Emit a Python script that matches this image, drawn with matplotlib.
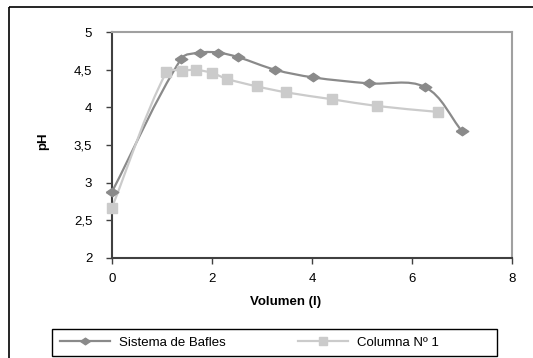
import math
import matplotlib
matplotlib.use("Agg")
import matplotlib.pyplot as plt
from matplotlib.patches import Rectangle, PathPatch
from matplotlib.path import Path
from matplotlib.lines import Line2D

plt.rcParams['font.family'] = ['Liberation Sans', 'DejaVu Sans']

# Data
bafles_x = [0.0, 1.39, 1.77, 2.13, 2.52, 3.27, 4.02, 5.13, 6.26, 7.0]
bafles_y = [2.87, 4.65, 4.73, 4.73, 4.67, 4.50, 4.40, 4.32, 4.27, 3.68]
columna_x = [0.0, 1.09, 1.41, 1.68, 2.0, 2.3, 2.9, 3.49, 4.39, 5.29, 6.52]
columna_y = [2.66, 4.47, 4.49, 4.50, 4.46, 4.38, 4.28, 4.20, 4.11, 4.02, 3.94]
series_names = ["Sistema de Bafles", "Columna Nº 1"]
xticks = [0, 2, 4, 6, 8]
yticks = [2, 2.5, 3, 3.5, 4, 4.5, 5]
ytick_labels = ["2", "2,5", "3", "3,5", "4", "4,5", "5"]

c_dark = '#8a8a8a'
c_light = '#cbcbcb'
FS = 9.5

W, H = 533, 358
fig = plt.figure(figsize=(W / 100, H / 100), dpi=100)

# outer chart border
fig.add_artist(Rectangle((9 / W, 1 - 7 / H), 1.2, -1.2, transform=fig.transFigure,
                         fill=False, edgecolor='black', linewidth=1.2))

left, right, top, bottom = 111.7, 512.3, 32.3, 257.7
ax = fig.add_axes([left / W, 1 - bottom / H, (right - left) / W, (bottom - top) / H])
ax.set_xlim(0, 8)
ax.set_ylim(2, 5)

# aspect scale (pixels per data unit) used only to shape the smoothed line
SX = (right - left) / 8
SY = (bottom - top) / 3


def smooth_path(xs, ys):
    pts = [(x * SX, y * SY) for x, y in zip(xs, ys)]
    n = len(pts)

    def tangent(i):
        a = pts[max(i - 1, 0)]
        b = pts[min(i + 1, n - 1)]
        dx, dy = b[0] - a[0], b[1] - a[1]
        L = math.hypot(dx, dy) or 1.0
        return dx / L, dy / L

    verts = [pts[0]]
    codes = [Path.MOVETO]
    for i in range(n - 1):
        p1, p2 = pts[i], pts[i + 1]
        d = math.hypot(p2[0] - p1[0], p2[1] - p1[1]) / 3
        t1, t2 = tangent(i), tangent(i + 1)
        c1 = (p1[0] + t1[0] * d, p1[1] + t1[1] * d)
        c2 = (p2[0] - t2[0] * d, p2[1] - t2[1] * d)
        verts += [c1, c2, p2]
        codes += [Path.CURVE4] * 3
    verts = [(vx / SX, vy / SY) for vx, vy in verts]
    return Path(verts, codes)


diamond = [(-1, 0), (0, 0.68), (1, 0), (0, -0.68), (-1, 0)]

ax.add_patch(PathPatch(smooth_path(bafles_x, bafles_y), facecolor='none',
                       edgecolor=c_dark, linewidth=1.6, zorder=2))
ax.add_patch(PathPatch(smooth_path(columna_x, columna_y), facecolor='none',
                       edgecolor=c_light, linewidth=1.6, zorder=2))
ax.plot(columna_x, columna_y, linestyle='none', marker='s', markersize=7,
        markerfacecolor=c_light, markeredgecolor=c_light, zorder=3, clip_on=False)
ax.plot(bafles_x, bafles_y, linestyle='none', marker=diamond, markersize=9,
        markerfacecolor=c_dark, markeredgecolor=c_dark, zorder=4, clip_on=False)

ax.set_xticks(xticks)
ax.set_xticklabels([str(v) for v in xticks])
ax.set_yticks(yticks)
ax.set_yticklabels(ytick_labels)
ax.tick_params(axis='both', direction='out', length=4, width=1, color='#404040',
               labelsize=FS)
ax.tick_params(axis='y', pad=10)
ax.tick_params(axis='x', pad=7)

for s in ['left', 'bottom']:
    ax.spines[s].set_color('#404040')
    ax.spines[s].set_linewidth(1.5)
    ax.spines[s].set_zorder(2.5)
for s in ['top', 'right']:
    ax.spines[s].set_color('#a0a0a0')
    ax.spines[s].set_linewidth(1.5)

fig.text(286 / W, 1 - 302 / H, "Volumen (l)", fontsize=FS, fontweight='bold',
         ha='center', va='center')
fig.text(43 / W, 1 - 141 / H, "pH", fontsize=FS, fontweight='bold',
         ha='center', va='center', rotation=90)

# legend frame
fig.add_artist(Rectangle((52 / W, 1 - 356 / H), (497 - 52) / W, (356 - 329) / H,
                         transform=fig.transFigure, fill=False, edgecolor='black',
                         linewidth=1.0))
handles = [
    Line2D([], [], color=c_dark, linewidth=1.6, marker=diamond, markersize=7,
           markerfacecolor=c_dark, markeredgecolor=c_dark),
    Line2D([], [], color=c_light, linewidth=1.6, marker='s', markersize=5.5,
           markerfacecolor=c_light, markeredgecolor=c_light),
]
fpx = FS * 100 / 72
leg = fig.legend(handles, series_names, loc='center left',
                 bbox_to_anchor=(60 / W, 1 - 342.5 / H), borderaxespad=0, borderpad=0,
                 ncol=2, frameon=False, fontsize=FS,
                 handlelength=50 / fpx, handletextpad=9 / fpx, columnspacing=72 / fpx)

fig.savefig("out.png", dpi=100)
